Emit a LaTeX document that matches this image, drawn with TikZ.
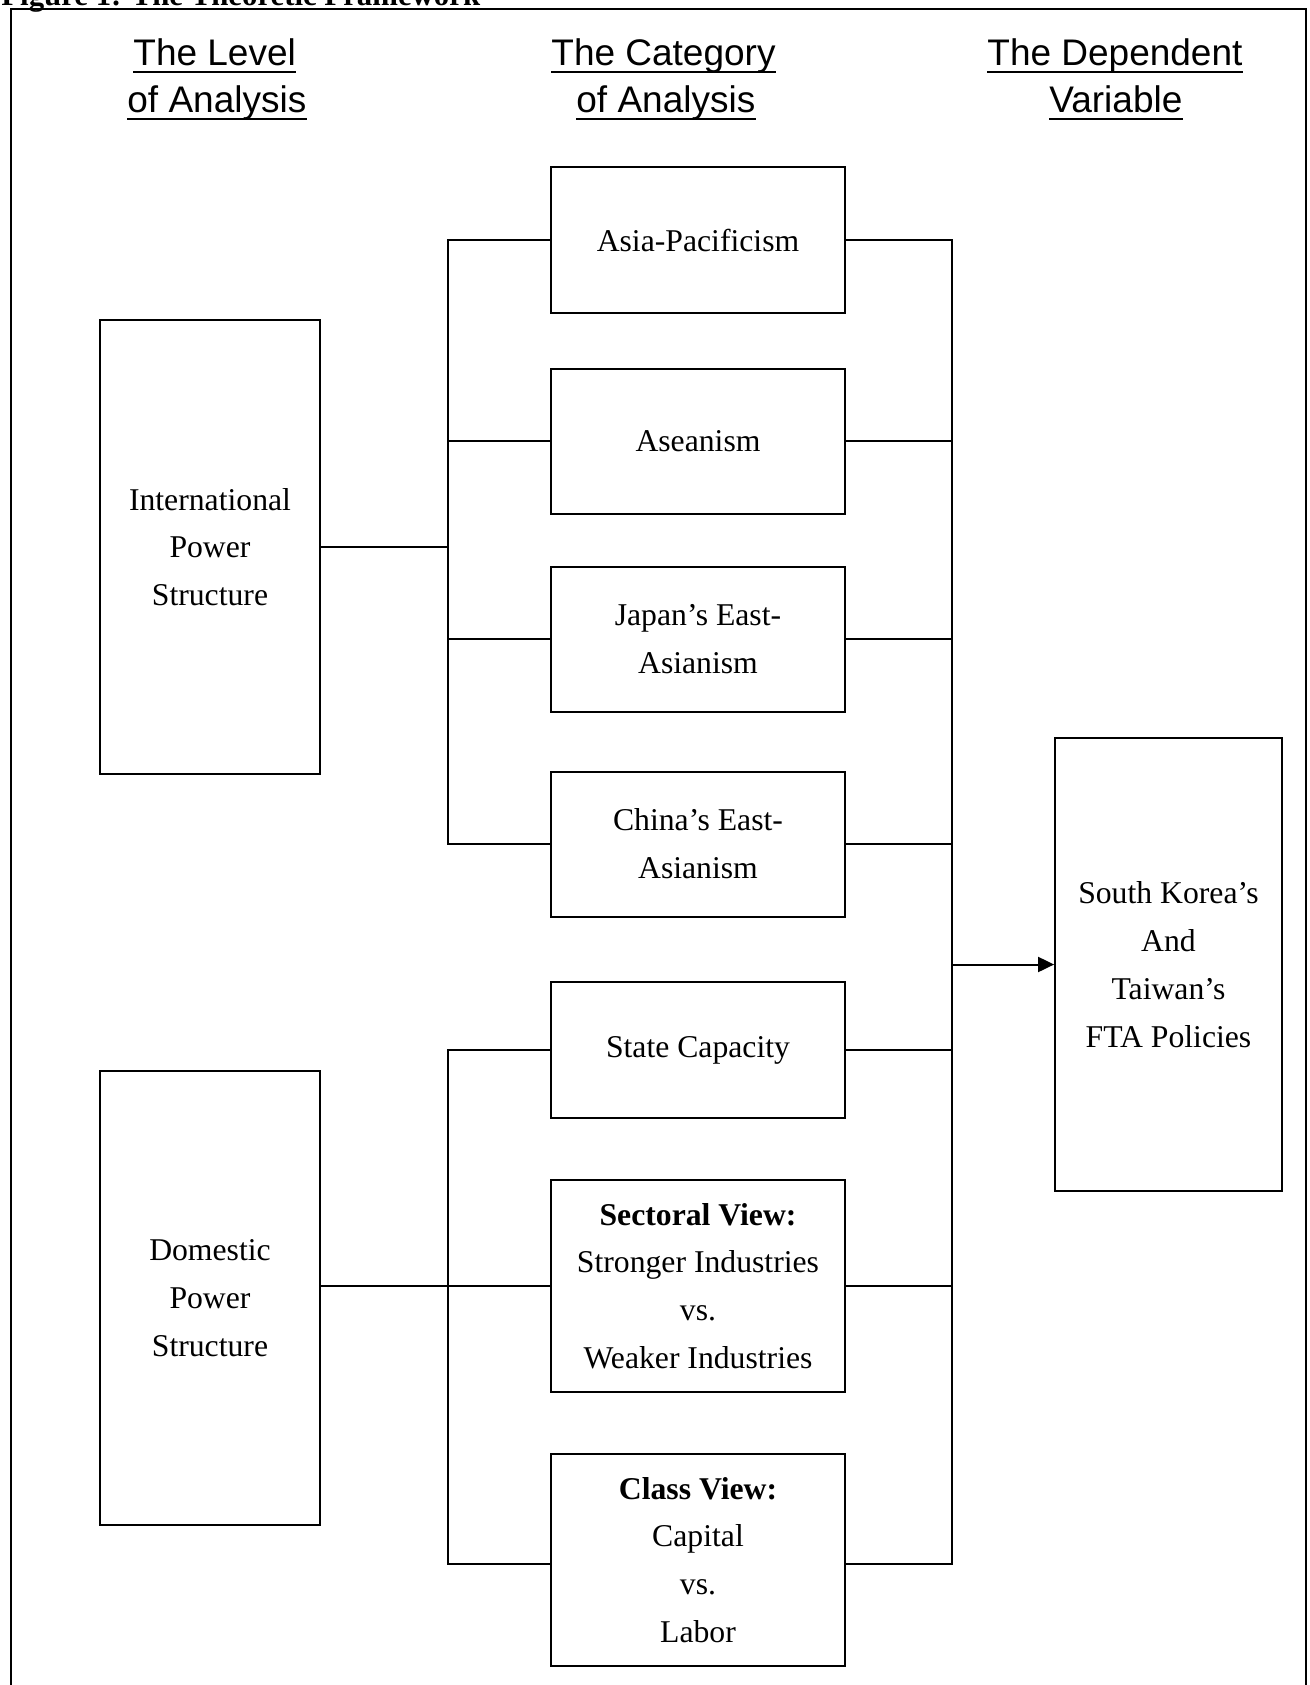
\documentclass[tikz,border=0pt]{standalone}
\usepackage{fontspec}
\setmainfont{Liberation Serif}
\newfontfamily\hdrfont{Liberation Sans}
\usetikzlibrary{arrows.meta}
\begin{document}
\begin{tikzpicture}[x=0.5pt,y=-0.5pt,
  box/.style={draw, line width=1pt, inner sep=0pt, align=center,
    font=\fontsize{15.85}{23.9}\selectfont},
  midbox/.style={box, minimum width=147pt, minimum height=72.5pt},
  sidebox/.style={box, minimum width=110pt, minimum height=226.8pt},
  conn/.style={line width=1pt},
  hdr/.style={anchor=base west, inner sep=0pt, font=\hdrfont\fontsize{18.5}{22}\selectfont},
  uline/.style={line width=1.2pt}]
\useasboundingbox (0,0) rectangle (1310,1685);
\clip (0,0) rectangle (1310,1685);
% frame and title
\draw[line width=1pt] (10.7,8.6) rectangle (1306,1720);
\node[anchor=base west, inner sep=0pt, font=\bfseries\fontsize{15.4}{18}\selectfont] (title) at (1,6) {Figure 1: The Theoretic Framework};
% headers
\node[hdr] (h1a) at (133,65.6) {The Level\ };
\node[hdr] (h1b) at (127,112.8) {of Analysis};
\node[hdr] (h2a) at (551,65.6) {The Category};
\node[hdr] (h2b) at (576,112.8) {of Analysis};
\node[hdr] (h3a) at (987,65.6) {The Dependent\ };
\node[hdr] (h3b) at (1049,112.8) {Variable};
\foreach \h in {h1a,h1b,h2a,h2b,h3a,h3b}
  \draw[uline] ([yshift=-3.2pt]\h.base west) -- ([yshift=-3.2pt]\h.base east);
% boxes
\node[sidebox] (ips) at (210,547) {International\\Power\\Structure};
\node[sidebox] (dps) at (210,1298) {Domestic\\Power\\Structure};
\node[midbox] (asia) at (698,240) {Asia-Pacificism};
\node[midbox] (asean) at (698,441) {Aseanism};
\node[midbox] (japan) at (698,639) {Japan’s East-\\Asianism};
\node[midbox] (china) at (698,844) {China’s East-\\Asianism};
\node[midbox, minimum height=68.3pt] (state) at (698,1050) {State Capacity};
\node[midbox, minimum height=105.8pt] (sect) at (698,1286) {\textbf{Sectoral View:}\\Stronger Industries\\vs.\\Weaker Industries};
\node[midbox, minimum height=105.8pt] (class) at (698,1560) {\textbf{Class View:}\\Capital\\vs.\\Labor};
\node[box, minimum width=113.4pt, minimum height=226.2pt] (sk) at (1168.5,964.5) {South Korea’s\\And\\Taiwan’s\\FTA Policies};
% buses
\coordinate (Lx) at (448,0);
\coordinate (Rx) at (952,0);
\coordinate (clw) at ([yshift=-2pt]class.west);
\coordinate (cle) at ([yshift=-2pt]class.east);
\draw[conn] (asia.west) -- (asia.west -| Lx) -- (china.west -| Lx) -- (china.west);
\draw[conn] (asean.west) -- (asean.west -| Lx);
\draw[conn] (japan.west) -- (japan.west -| Lx);
\draw[conn] (ips.east) -- (ips.east -| Lx);
\draw[conn] (state.west) -- (state.west -| Lx) -- (clw -| Lx) -- (clw);
\draw[conn] (dps.east |- sect.west) -- (sect.west);
\draw[conn] (asia.east) -- (asia.east -| Rx) -- (cle -| Rx) -- (cle);
\foreach \b in {asean,japan,china,state,sect}
  \draw[conn] (\b.east) -- (\b.east -| Rx);
\draw[conn, -{Triangle[length=8pt,width=7.5pt]}] (sk.west -| Rx) -- (sk.west);
\end{tikzpicture}
\end{document}
